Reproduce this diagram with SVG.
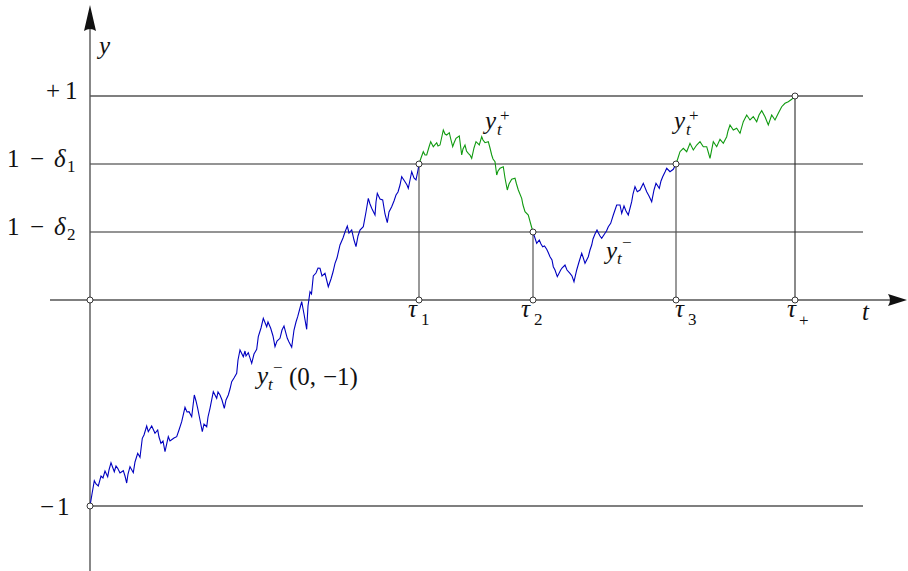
<svg xmlns="http://www.w3.org/2000/svg" width="908" height="571" viewBox="0 0 908 571">
<style>
.ax{stroke:#555;stroke-width:1.4;fill:none}
.gl{stroke:#2a2a2a;stroke-width:1.1;fill:none}
.vl{stroke:#555;stroke-width:1.2;fill:none}
.bl{stroke:#0000c0;stroke-width:1.1;fill:none}
.gr{stroke:#109a10;stroke-width:1.1;fill:none}
.pt{fill:#fff;stroke:#222;stroke-width:0.9}
</style>
<rect width="908" height="571" fill="#fff"/>
<g id="grid">
<line class="ax" x1="90" y1="96" x2="863" y2="96"/>
<line class="gl" x1="90" y1="164" x2="863" y2="164"/>
<line class="gl" x1="90" y1="232" x2="863" y2="232"/>
<line class="ax" x1="90" y1="506" x2="863" y2="506"/>
</g>
<g id="axes">
<line class="ax" x1="90" y1="571" x2="90" y2="24"/>
<path d="M90,5 L96,31 Q90,27 84,31 Z" fill="#111"/>
<line class="ax" x1="50" y1="300" x2="893" y2="300"/>
<path d="M907,300 L888,306 Q892,300 888,294 Z" fill="#111"/>
</g>
<g id="connectors">
<line class="vl" x1="419" y1="164" x2="419" y2="300"/>
<line class="vl" x1="533" y1="232" x2="533" y2="300"/>
<line class="vl" x1="676" y1="164" x2="676" y2="300"/>
<line class="gl" x1="795" y1="96" x2="795" y2="300"/>
</g>
<g id="paths">
<polyline class="bl" points="90,506 92,494 94.3,480.7 96,484 98.3,486 101,476 103,478 105,471 107.7,476.7 109,470 111,462.7 114.3,471.7 116,466 117.7,468.3 120,473 123.3,470.7 125,476 126.7,483 128,474 130,466.7 133.3,472.7 135,462 137.7,453.3 140,457.3 142.3,438.3 144,435 146.7,426 148.3,431.7 151.7,426 155,433.3 157.7,430 159,437 161,443.3 163,441 165,451.7 168.3,436.7 170,441 172.3,439.3 174,438 176.7,436.7 179,430 181.7,421.7 185,407.3 187,412 189,411.7 191.7,416.7 194.3,395 196,401 197.7,408.3 200,420 202.3,431.7 204,424 206.7,426.7 208,417 210,408.3 213.3,391.7 216.7,398.3 218,392 220,395 222,400 224.3,408.3 226,400 228.3,395 230,389 231.7,381.7 234,378 236.7,373.3 238,360 240,350 243.3,356.7 245,351 246,356 248.3,352.7 251.7,363.3 254,354 256.7,349.3 258.3,336.7 261,328 263.3,318.3 266.7,326.7 268,322 270.7,328.3 273,336 275,346.7 277,341 280,338.3 282,330 284,326 287.3,338.3 289,342 291.7,347.3 294,330 296,322 297.7,316.7 300,308 301.7,301.7 304,314 306.7,329.3 308,306 310,291.7 311.5,294 313.3,276 316,273 318,268 320,268.3 322,276 325,273.3 328.3,286.7 331,279 333,272 335,263.3 337,258 340,245 343,238 345,232 347.3,226 349,233 351.7,230 354,240 356,246.7 358,236 360,230 363.3,226.7 366,212 368.3,198.3 370,204 371.7,208.3 375,215 376,202 377.3,193.3 380,199 382.7,200 385,214 387.3,222.7 389,212 391.7,206.7 394,201 396,195 398,192 400,185 401.7,176.7 405,181.7 407,185 408.3,188.3 410,180 411.7,171.7 414,178 416,180 418,170 419,164"/>
<polyline class="gr" points="419,164 421,158 423.3,151.7 425,155 426.7,155 429,147 430.7,141.7 433.3,146.7 436.7,142.7 438,146 440,145 442,136 443.3,130 445,134 446.7,135 449.3,132.7 451,140 452.7,146.7 454,143 456,138.3 459.3,136 461.7,155 463,149 465,145 466.5,151 468.3,153.3 470,155 471.7,158.3 474,148 476,141.7 479.3,145 481.7,136.7 483,140 485,142.7 488.3,141.7 490,148 491.7,155 493,159 495,161.7 496.7,175 498,171 500,168.3 503.3,166.7 505,178 507.3,190 509,184 511.7,179.3 515,178.3 516.5,184 518.3,190 521.7,198.3 523,205 525,211.7 528.3,215 531,225 533,232"/>
<polyline class="bl" points="533,232 536.7,243.3 539.3,240 541,244 542.7,246.7 544.5,246 546.7,249.3 548,252 550,256.7 552,260 553.3,266.7 555,270 557.3,276.7 560.7,270 562,268 565,265 567,270 570,273.3 572,276 574,281.7 576.7,270 579,262 581.7,253.3 583,257 585,263.3 588.3,256.7 590,250 591.7,245 593,239 595,234 597,230 598.3,232.7 600,236 601.7,238.3 605,233.3 606.5,231 608.3,226.7 610.7,223.3 613.3,215 615,210 616.7,205 620,205 621.7,213.3 624,206 626,211 628.3,215 631.7,201.7 633,194 635,186.7 637.3,191.7 640,190 643.3,183.3 646.7,191.7 649,196 651.7,201.7 654,190 656,183.3 659.3,188.3 661,181 662.7,176.7 665,172 666.7,168.3 670,171.7 673.3,169.3 676,164"/>
<polyline class="gr" points="676,164 678,158 680,151.7 683.3,148.3 686.7,151.7 690,143.3 693.3,150 696.7,145 700,141.7 703.3,146.7 706.7,146.7 708.5,153 710,158.3 713.3,141.7 716.7,146.7 720,139.3 723.3,143.3 726.7,136.7 728,131 730,125 733.3,130 736.7,128.3 740,133.3 743.3,121.7 746.7,115 750,120 753.3,116.7 756.7,121.7 759,115 761.7,110.7 765,116.7 768.3,125 771.7,115 775,120 778.3,113.3 781.7,106.7 785,103.3 788.3,101.7 791.7,99.3 795,96"/>
</g>
<g id="points">
<circle class="pt" cx="90" cy="300" r="3"/>
<circle class="pt" cx="90" cy="506" r="3"/>
<circle class="pt" cx="419" cy="164" r="3"/>
<circle class="pt" cx="419" cy="300" r="3"/>
<circle class="pt" cx="533" cy="232" r="3"/>
<circle class="pt" cx="533" cy="300" r="3"/>
<circle class="pt" cx="676" cy="164" r="3"/>
<circle class="pt" cx="676" cy="300" r="3"/>
<circle class="pt" cx="795" cy="96" r="3"/>
<circle class="pt" cx="795" cy="300" r="3"/>
</g>
<g id="labels" font-family="'Liberation Serif', 'DejaVu Serif', serif" fill="#111" font-size="25">
<text font-style="italic" x="99" y="54">y</text>
<g id="l-p1"><text x="46" y="99">+</text><text x="65" y="99">1</text></g>
<g id="l-d1"><text x="7" y="167">1</text><text x="30" y="167">−</text><text font-style="italic" x="54" y="167">δ</text><text font-size="17" x="67" y="172">1</text></g>
<g id="l-d2"><text x="7" y="235">1</text><text x="30" y="235">−</text><text font-style="italic" x="54" y="235">δ</text><text font-size="17" x="67" y="240">2</text></g>
<g id="l-m1"><text x="40" y="515">−</text><text x="57" y="515">1</text></g>
<g id="l-tau1"><text font-style="italic" x="408" y="317">τ</text><text font-size="17" x="421" y="325">1</text></g>
<g id="l-tau2"><text font-style="italic" x="521" y="317">τ</text><text font-size="17" x="534" y="325">2</text></g>
<g id="l-tau3"><text font-style="italic" x="675" y="317">τ</text><text font-size="17" x="688" y="325">3</text></g>
<g id="l-taup"><text font-style="italic" x="787" y="317">τ</text><text font-size="17" x="799" y="326">+</text></g>
<text font-style="italic" x="862" y="320">t</text>
<g id="l-yp1"><text font-style="italic" x="485" y="129">y</text><text font-size="17" font-style="italic" x="497" y="135">t</text><text font-size="17" x="500" y="121">+</text></g>
<g id="l-yp2"><text font-style="italic" x="674" y="129">y</text><text font-size="17" font-style="italic" x="686" y="135">t</text><text font-size="17" x="689" y="121">+</text></g>
<g id="l-ym"><text font-style="italic" x="606" y="259">y</text><text font-size="17" font-style="italic" x="617" y="264">t</text><text font-size="17" x="622" y="248">−</text></g>
<g id="l-ym0"><text font-style="italic" x="257" y="384">y</text><text font-size="17" font-style="italic" x="268" y="390">t</text><text font-size="17" x="273" y="373">−</text><text x="289" y="385">(0,</text><text x="323" y="385">−1)</text></g>
</g>
</svg>
